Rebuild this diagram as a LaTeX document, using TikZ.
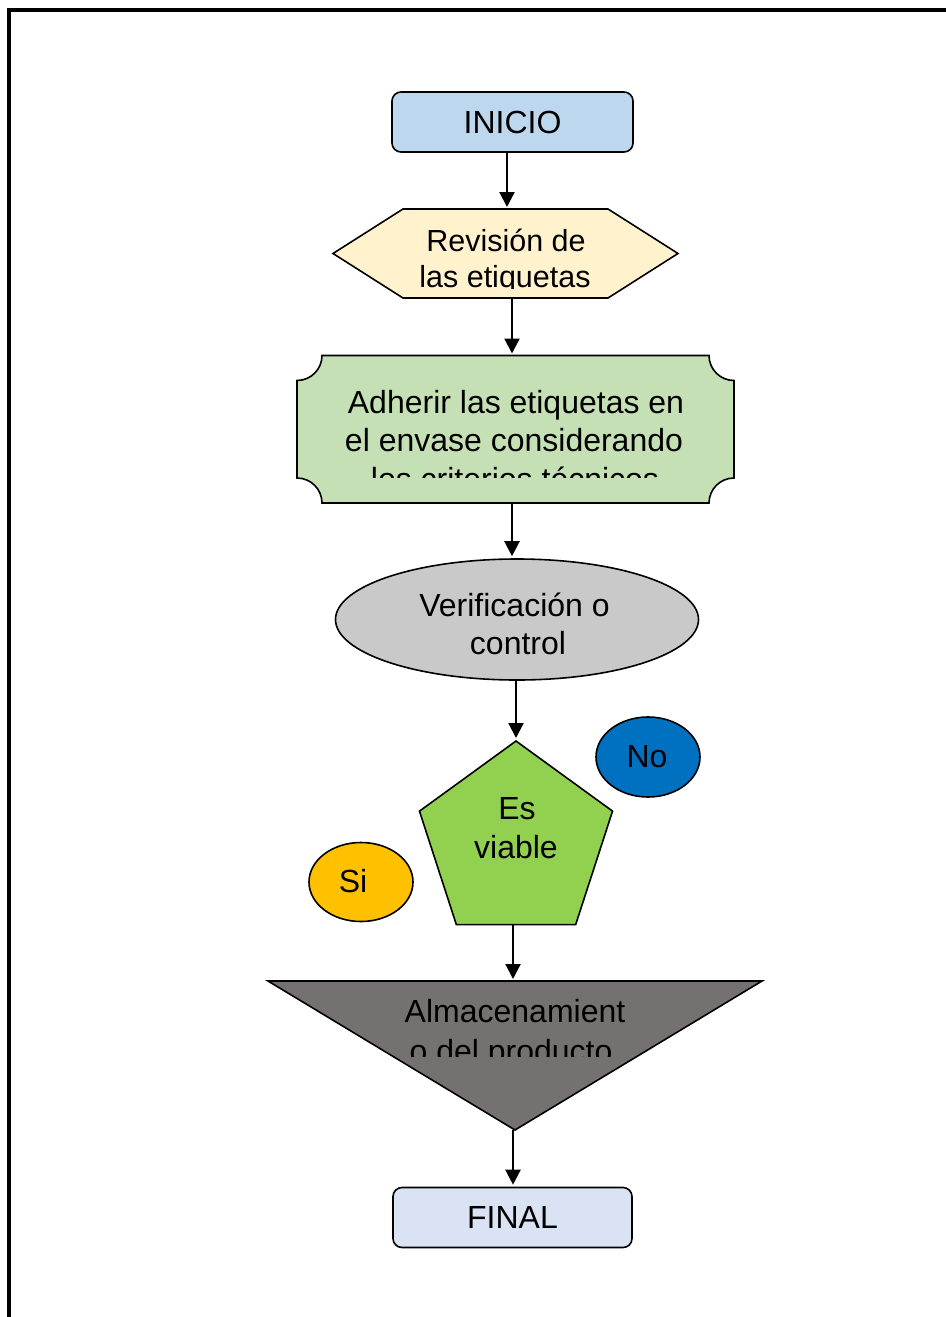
\documentclass[tikz,border=0pt]{standalone}
\usepackage{fontspec}
\setmainfont{Liberation Sans}
\usetikzlibrary{arrows.meta,shapes.geometric,calc}
\definecolor{iniC}{RGB}{189,215,238}
\definecolor{revC}{RGB}{255,242,204}
\definecolor{adhC}{RGB}{197,224,180}
\definecolor{verC}{RGB}{201,201,201}
\definecolor{penC}{RGB}{146,208,80}
\definecolor{noC}{RGB}{0,112,192}
\definecolor{siC}{RGB}{255,192,0}
\definecolor{triC}{RGB}{118,113,113}
\definecolor{finC}{RGB}{218,227,243}
\begin{document}
\begin{tikzpicture}[x=1pt,y=-1pt,
  box/.style={draw=black, line width=1.6pt},
  arr/.style={-{Triangle[length=15pt,width=15pt]}, line width=2.2pt, shorten >=2pt},
  anchorbox/.style={draw=none, inner sep=0pt, outer sep=0pt},
  big/.style={font=\fontsize{32}{39}\selectfont},
  txt/.style={anchor=base, inner sep=0pt, big},
]
\useasboundingbox (0,0) rectangle (945,1317);
\fill[white] (0,0) rectangle (945,1317);
\draw[line width=3.5pt] (9,1330) -- (9,10) -- (960,10);

% INICIO
\node[box, rounded corners=9pt, fill=iniC, minimum width=241pt, minimum height=60pt, inner sep=0pt, big] (ini) at (512.5,122) {INICIO};

% Revision (hexagon)
\node[anchorbox, minimum width=345pt, minimum height=89pt] (rev) at (505.5,253.5) {};
\draw[box, fill=revC] (rev.west) -- ([xshift=70pt]rev.north west) -- ([xshift=-70pt]rev.north east)
  -- (rev.east) -- ([xshift=-70pt]rev.south east) -- ([xshift=70pt]rev.south west) -- cycle;
\begin{scope}
  \clip (333,200) rectangle (678,288);
  \node[txt, font=\fontsize{30.5}{35}\selectfont] (revt1) at (506,251) {Revisión de};
  \node[txt, font=\fontsize{30.5}{35}\selectfont] (revt2) at (505,287) {las etiquetas};
\end{scope}

% Adherir (plaque)
\node[anchorbox, minimum width=437pt, minimum height=147.5pt] (adh) at (515.5,429.25) {};
\draw[box, fill=adhC] (322,355.5) -- (709,355.5)
  .. controls (709,369.3) and (720.2,380.5) .. (734,380.5) -- (734,478)
  .. controls (720.2,478) and (709,489.2) .. (709,503) -- (322,503)
  .. controls (322,489.2) and (310.8,478) .. (297,478) -- (297,380.5)
  .. controls (310.8,380.5) and (322,369.3) .. (322,355.5) -- cycle;
\begin{scope}
  \clip (297,350) rectangle (734,477.7);
  \node[txt] (adht1) at (516,413.3) {Adherir las etiquetas en};
  \node[txt] (adht2) at (514,451.7) {el envase considerando};
  \node[txt] (adht3) at (515,490.2) {los criterios técnicos};
\end{scope}

% Verificacion (ellipse)
\node[box, ellipse, fill=verC, minimum width=363pt, minimum height=121pt, inner sep=0pt] (ver) at (517,619.5) {};
\node[txt] (vert1) at (514.5,616) {Verificación o};
\node[txt] (vert2) at (518,654) {control};

% Es viable (pentagon)
\node[box, regular polygon, regular polygon sides=5, fill=penC, minimum size=203pt, inner sep=0pt] (pen) at (516,842.5) {};
\node[txt] (pent1) at (517,819.5) {Es};
\node[txt] (pent2) at (516,858.5) {viable};

% No / Si
\node[box, ellipse, fill=noC, minimum width=104pt, minimum height=80pt, inner sep=0pt] (no) at (648,757) {};
\node[txt] (not) at (647,767) {No};
\node[box, ellipse, fill=siC, minimum width=104pt, minimum height=79pt, inner sep=0pt] (si) at (361,882) {};
\node[txt] (sit) at (353,892) {Si};

% Almacenamiento (triangle)
\node[anchorbox, minimum width=494pt, minimum height=149pt] (tri) at (515,1055.5) {};
\draw[box, fill=triC] (tri.north west) -- (tri.north east) -- (tri.south) -- cycle;
\begin{scope}
  \clip (268,975) rectangle (762,1056.5);
  \node[txt] (trit1) at (515,1022) {Almacenamient};
  \node[txt] (trit2) at (511,1062) {o del producto};
\end{scope}

% FINAL
\node[box, rounded corners=9pt, fill=finC, minimum width=239pt, minimum height=60pt, inner sep=0pt, big] (fin) at (512.5,1217.5) {FINAL};

% connectors
\coordinate (c1) at (507,0);
\coordinate (c2) at (512,0);
\coordinate (c3) at (512,0);
\coordinate (c4) at (516,0);
\coordinate (c5) at (513,0);
\coordinate (c6) at (513,0);
\draw[arr] (c1 |- ini.south) -- (c1 |- rev.north);
\draw[arr] (c2 |- rev.south) -- (c2 |- adh.north);
\draw[arr] (c3 |- adh.south) -- (c3 |- ver.north);
\draw[arr] (c4 |- ver.south) -- (c4 |- pen.north);
\draw[arr] (c5 |- pen.south) -- (c5 |- tri.north);
\draw[arr] (c6 |- tri.south) -- (c6 |- fin.north);
\end{tikzpicture}
\end{document}
